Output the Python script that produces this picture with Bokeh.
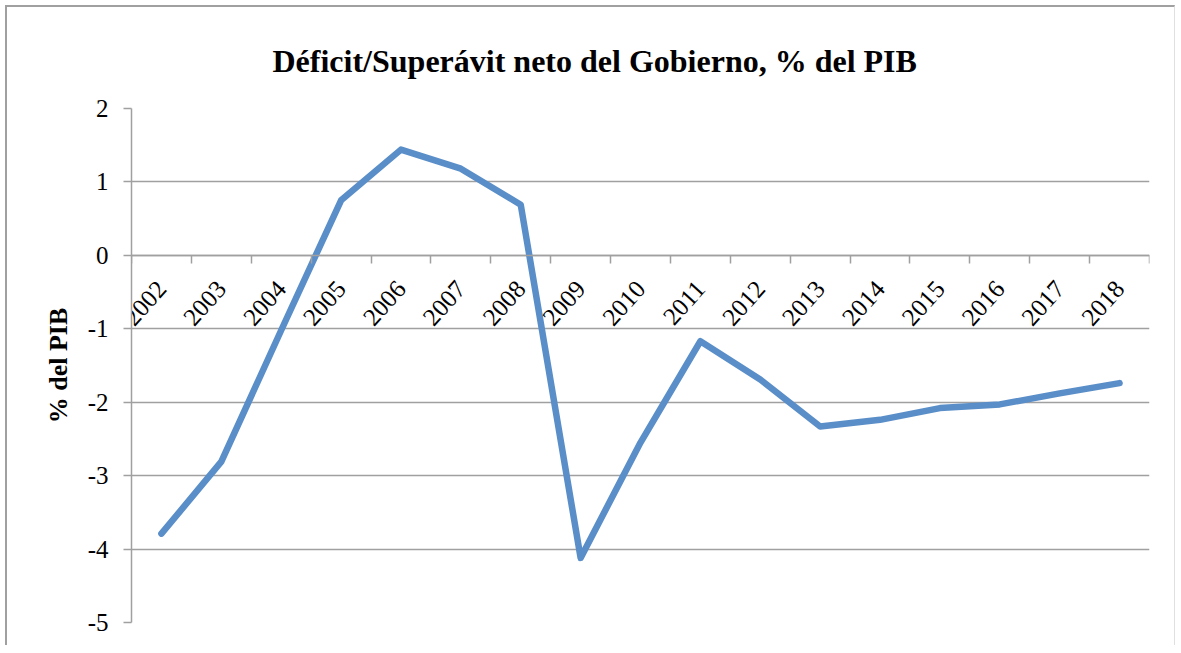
import numpy as np
from bokeh.plotting import figure
from bokeh.models import Range1d, LinearAxis, FixedTicker, Title, CustomJSTickFormatter
from bokeh.embed import file_html
from bokeh.resources import INLINE

# ---- data ----
years = [str(y) for y in range(2002, 2019)]
balance = [-3.79, -2.81, -1.02, 0.75, 1.44, 1.18, 0.69, -4.12, -2.55, -1.17,
           -1.69, -2.33, -2.24, -2.08, -2.03, -1.88, -1.74]
y_ticks = [-5, -4, -3, -2, -1, 0, 1, 2]
title_text = "Déficit/Superávit neto del Gobierno, % del PIB"
y_title = "% del PIB"

FONT = "Liberation Serif"
GRAY = "#a0a0a0"
LINE = "#5a8ec8"

W, H = 1170, 640
x = np.arange(len(years)) + 0.5

p = figure(width=W, height=H, output_backend="svg", toolbar_location=None,
           x_range=Range1d(0, len(years)), y_range=Range1d(y_ticks[0], y_ticks[-1]),
           x_axis_location=None, y_axis_location="left",
           min_border_left=124, min_border_right=28, min_border_top=101,
           min_border_bottom=25)
p.outline_line_color = None
p.background_fill_color = "white"
p.border_fill_color = "white"
p.styles = {"margin-left": "5px", "margin-top": "5px",
            "border-top": "2px solid #a0a0a0", "border-left": "2px solid #a0a0a0",
            "border-right": "1px solid #e0e0e0"}

# title
p.title = Title(text=title_text, align="left", offset=141, standoff=60,
                text_font=FONT, text_font_style="bold", text_font_size="32px",
                text_color="black")

# y axis
yax = p.yaxis[0]
yax.ticker = FixedTicker(ticks=y_ticks)
yax.formatter = CustomJSTickFormatter(code="return tick.toString()")
yax.axis_line_color = GRAY
yax.axis_line_width = 1.5
yax.major_tick_line_color = GRAY
yax.major_tick_line_width = 1.5
yax.major_tick_out = 8
yax.major_tick_in = 0
yax.minor_tick_line_color = None
yax.major_label_text_font = FONT
yax.major_label_text_font_size = "25px"
yax.major_label_text_color = "black"
yax.major_label_standoff = 15
yax.axis_label = y_title
yax.axis_label_text_font = FONT
yax.axis_label_text_font_style = "bold"
yax.axis_label_text_font_size = "26px"
yax.axis_label_text_color = "black"
yax.axis_label_standoff = 12

p.ygrid.ticker = FixedTicker(ticks=y_ticks)
p.ygrid.grid_line_color = GRAY
p.ygrid.grid_line_width = 1.5
p.xgrid.grid_line_color = None

# x axis with tick marks between categories, at y = 0
tick_axis = LinearAxis(ticker=FixedTicker(ticks=list(range(len(years) + 1))),
                       fixed_location=0,
                       formatter=CustomJSTickFormatter(code="return ''"),
                       axis_line_color=GRAY, axis_line_width=1.5,
                       major_tick_line_color=GRAY, major_tick_line_width=1.5,
                       major_tick_out=8, major_tick_in=0,
                       minor_tick_line_color=None)
p.add_layout(tick_axis, "below")

# x labels at category centers
label_axis = LinearAxis(ticker=FixedTicker(ticks=list(x)),
                        fixed_location=0,
                        formatter=CustomJSTickFormatter(args=dict(yrs=years),
                                                        code="return yrs[Math.floor(tick)] || ''"),
                        axis_line_color=None, major_tick_line_color=None,
                        minor_tick_line_color=None, major_tick_out=0, major_tick_in=0,
                        major_label_orientation=0.84,
                        major_label_standoff=29,
                        major_label_text_font=FONT,
                        major_label_text_font_size="25px",
                        major_label_text_color="black")
p.add_layout(label_axis, "below")

p.line(x, balance, line_color=LINE, line_width=6.5, line_cap="round", line_join="round")

open("out.html", "w").write(file_html(p, INLINE))
